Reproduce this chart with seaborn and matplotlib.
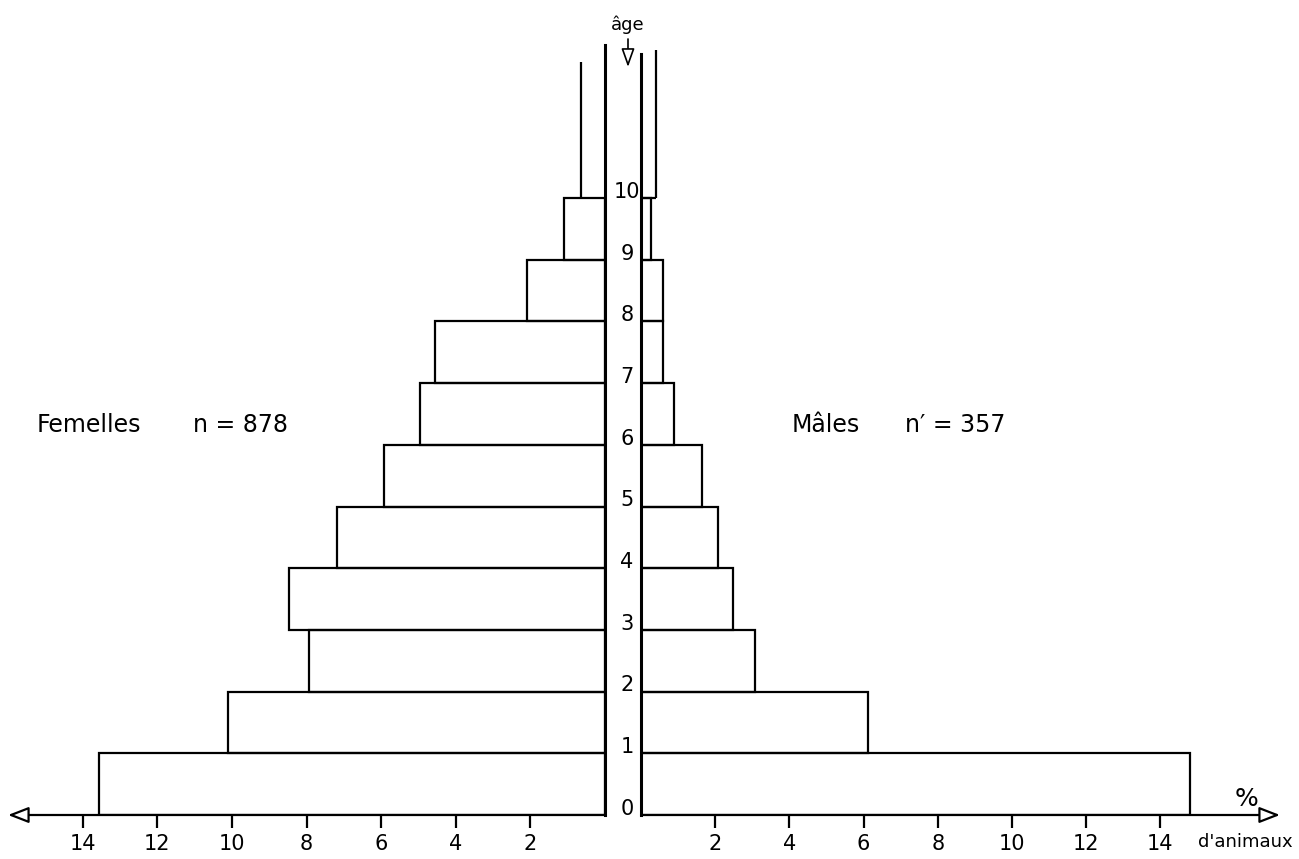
import numpy as np
import pandas as pd
import matplotlib
matplotlib.use("Agg")
import matplotlib.pyplot as plt
import seaborn as sns
from matplotlib.transforms import blended_transform_factory

# age classes 0-1 ... 9-10, percentages
ages = [0, 1, 2, 3, 4, 5, 6, 7, 8, 9]
age_labels = ["0", "1", "2", "3", "4", "5", "6", "7", "8", "9", "10"]
female_pct = [13.56, 10.1, 7.94, 8.48, 7.17, 5.91, 4.95, 4.55, 2.09, 1.10]
male_pct = [14.8, 6.12, 3.07, 2.48, 2.08, 1.64, 0.89, 0.58, 0.58, 0.27]
# open class 10+ (only a vertical line)
female_10plus = 0.64
male_10plus = 0.40
pct_ticks = [2, 4, 6, 8, 10, 12, 14]

df = pd.DataFrame({"age_mid": np.array(ages) + 0.5,
                   "femelles": female_pct,
                   "males": male_pct})

sns.set_style("white")
plt.rcParams["font.family"] = ["DejaVu Sans"]
plt.rcParams["text.color"] = "black"
plt.rcParams["xtick.color"] = "black"
plt.rcParams["xtick.labelcolor"] = "black"

W, H = 1299, 859
fig = plt.figure(figsize=(W / 100, H / 100), dpi=100)


def px_axes(x0, x1, y_top, y_bot):
    return fig.add_axes([x0 / W, 1 - y_bot / H, (x1 - x0) / W, (y_bot - y_top) / H])


y_max = 12.6
axL = px_axes(8, 605, 815 - y_max * 61.7, 815)
axR = px_axes(641, 1280, 815 - y_max * 61.7, 815)

lw = 1.6
sns.barplot(data=df, x="femelles", y="age_mid", orient="y", native_scale=True,
            width=1, fill=False, color="black", linewidth=lw, errorbar=None, ax=axL)
sns.barplot(data=df, x="males", y="age_mid", orient="y", native_scale=True,
            width=1, fill=False, color="black", linewidth=lw, errorbar=None, ax=axR)

# open-ended 10+ class
axL.vlines(female_10plus, 10, 12.2, colors="black", lw=lw)
axR.vlines(male_10plus, 10, 12.4, colors="black", lw=lw)
axR.hlines(10, 0, male_10plus, colors="black", lw=lw)

axL.set_xlim(16.0, 0)
axR.set_xlim(0, 639 / 37.1)
for ax in (axL, axR):
    ax.set_ylim(0, y_max)
    ax.set_yticks([])
    ax.set_xlabel("")
    ax.set_ylabel("")
    ax.set_xticks(pct_ticks)
    ax.set_xticklabels([str(t) for t in pct_ticks])
    ax.tick_params(axis="x", direction="out", length=9, width=lw,
                   labelsize=15, pad=5, bottom=True, color="black",
                   labelcolor="black")
    for s in ax.spines.values():
        s.set_visible(False)
    ax.patch.set_alpha(0)

# the central age column
axL.spines["right"].set_visible(True)
axL.spines["right"].set_linewidth(2.2)
axL.spines["right"].set_color("black")
axL.spines["right"].set_bounds(0, 12.48)
axR.spines["left"].set_visible(True)
axR.spines["left"].set_linewidth(2.2)
axR.spines["left"].set_color("black")
axR.spines["left"].set_bounds(0, 12.33)

arrow = dict(arrowstyle="-|>,head_length=0.9,head_width=0.35", mutation_scale=14,
             fc="white", ec="black", lw=lw, shrinkA=0, shrinkB=0)
axL.annotate("", xy=(0, 0), xytext=(1, 0), xycoords="axes fraction", arrowprops=arrow)
axR.annotate("", xy=(1, 0), xytext=(0, 0), xycoords="axes fraction", arrowprops=arrow)

# age labels in the column
tr = blended_transform_factory(fig.transFigure, axL.transData)
for i, lab in enumerate(age_labels):
    fig.text(627 / W, i + 0.1, lab, transform=tr, ha="center", va="center", fontsize=15)

fig.text(628 / W, 1 - 25 / H, "âge", ha="center", va="center", fontsize=13)
axL.annotate("", xy=(628, H - 67), xytext=(628, H - 39), xycoords="figure pixels",
             arrowprops=dict(arrowstyle="-|>,head_length=0.7,head_width=0.25",
                             mutation_scale=16, fc="white", ec="black", lw=1.2,
                             shrinkA=0, shrinkB=0))

fig.text(37 / W, 1 - 425 / H, "Femelles", ha="left", va="center", fontsize=17)
fig.text(193 / W, 1 - 425 / H, "n = 878", ha="left", va="center", fontsize=17)
fig.text(792 / W, 1 - 425 / H, "Mâles", ha="left", va="center", fontsize=17)
fig.text(905 / W, 1 - 425 / H, "n\u2032 = 357", ha="left", va="center", fontsize=17)

fig.text(1247 / W, 1 - 799 / H, "%", ha="center", va="center", fontsize=18)
fig.text(1245 / W, 1 - 842 / H, "d'animaux", ha="center", va="center", fontsize=13)

fig.savefig("out.png", dpi=100, facecolor="white")
